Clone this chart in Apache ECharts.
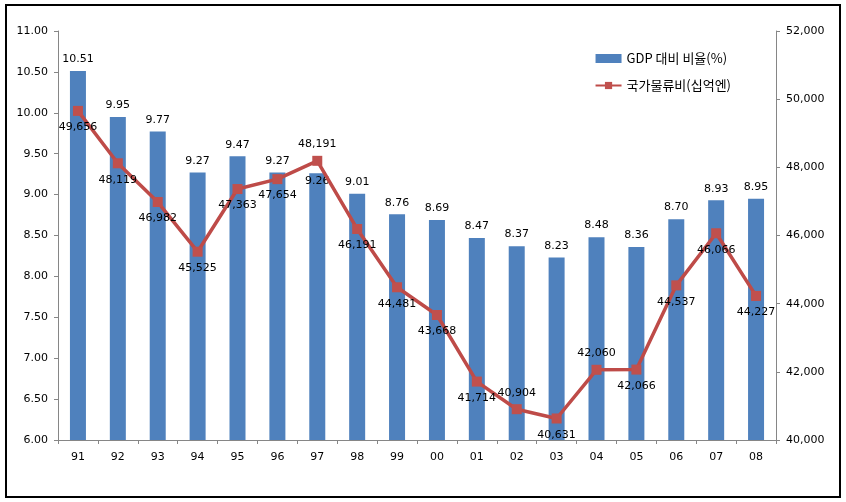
<!DOCTYPE html>
<html><head><meta charset="utf-8">
<script src="https://cdn.jsdelivr.net/npm/echarts@6/dist/echarts.min.js"></script>
<style>html,body{margin:0;padding:0;background:#fff}#c{width:846px;height:502px}</style>
</head><body><div id="c"></div>
<script>
const categories = ['91','92','93','94','95','96','97','98','99','00','01','02','03','04','05','06','07','08'];
const gdpRatio = [10.51,9.95,9.77,9.27,9.47,9.27,9.26,9.01,8.76,8.69,8.47,8.37,8.23,8.48,8.36,8.70,8.93,8.95];
const logisticsCost = [49656,48119,46982,45525,47363,47654,48191,46191,44481,43668,41714,40904,40631,42060,42066,44537,46066,44227];
const lineLabelAbove = ['97','02','04'];
const barLabelInside = ['97'];
const leftTicks = {min:6, max:11, interval:0.5};
const rightTicks = {min:40000, max:52000, interval:2000};

const font = '"DejaVu Sans", Verdana, sans-serif';
const chart = echarts.init(document.getElementById('c'));
const fmtNum = v => v.toLocaleString('en-US');
chart.setOption({
  animation:false,
  backgroundColor:'#fff',
  graphic:[{type:'rect',shape:{x:6,y:5,width:834,height:492},style:{fill:'none',stroke:'#000',lineWidth:2},z:-1}],
  grid:{left:58,right:70,top:31,bottom:62},
  legend:{
    right:110, top:47, orient:'vertical', itemGap:14, itemWidth:26, itemHeight:9,
    textStyle:{fontFamily:'"Noto Sans CJK KR", sans-serif', fontSize:13, color:'#000'},
    data:[{name:'GDP 대비 비율(%)', icon:'rect'},{name:'국가물류비(십억엔)'}]
  },
  xAxis:{
    type:'category', data:categories,
    axisLine:{lineStyle:{color:'#868686'}},
    axisTick:{show:true, length:4, lineStyle:{color:'#868686'}},
    axisLabel:{fontFamily:font, fontSize:11, color:'#000', margin:12}
  },
  yAxis:[{
    type:'value', min:leftTicks.min, max:leftTicks.max, interval:leftTicks.interval,
    axisLine:{show:true, lineStyle:{color:'#868686'}},
    axisTick:{show:true, length:4, lineStyle:{color:'#868686'}},
    splitLine:{show:false},
    axisLabel:{fontFamily:font, fontSize:11, color:'#000', margin:10, formatter:v=>v.toFixed(2)}
  },{
    type:'value', min:rightTicks.min, max:rightTicks.max, interval:rightTicks.interval,
    axisLine:{show:true, lineStyle:{color:'#868686'}},
    axisTick:{show:true, length:4, lineStyle:{color:'#868686'}},
    splitLine:{show:false},
    axisLabel:{fontFamily:font, fontSize:11, color:'#000', margin:10, formatter:v=>fmtNum(v)}
  }],
  series:[{
    name:'GDP 대비 비율(%)', type:'bar', yAxisIndex:0, barWidth:16,
    itemStyle:{color:'#4F81BD'},
    data:gdpRatio.map((v,i)=>({value:v, label:barLabelInside.includes(categories[i])?{position:'insideTop', distance:2}:{}})),
    label:{show:true, position:'top', distance:6, fontFamily:font, fontSize:11, color:'#000', formatter:p=>p.value.toFixed(2)}
  },{
    name:'국가물류비(십억엔)', type:'line', yAxisIndex:1,
    symbol:'rect', symbolSize:10,
    lineStyle:{color:'#BE4B48', width:3.5},
    itemStyle:{color:'#C0504D'},
    data:logisticsCost.map((v,i)=>({value:v, label:{position: lineLabelAbove.includes(categories[i])?'top':'bottom'}})),
    label:{show:true, distance:6, fontFamily:font, fontSize:11, color:'#000', formatter:p=>fmtNum(p.value)},
    z:3
  }]
});
</script></body></html>
